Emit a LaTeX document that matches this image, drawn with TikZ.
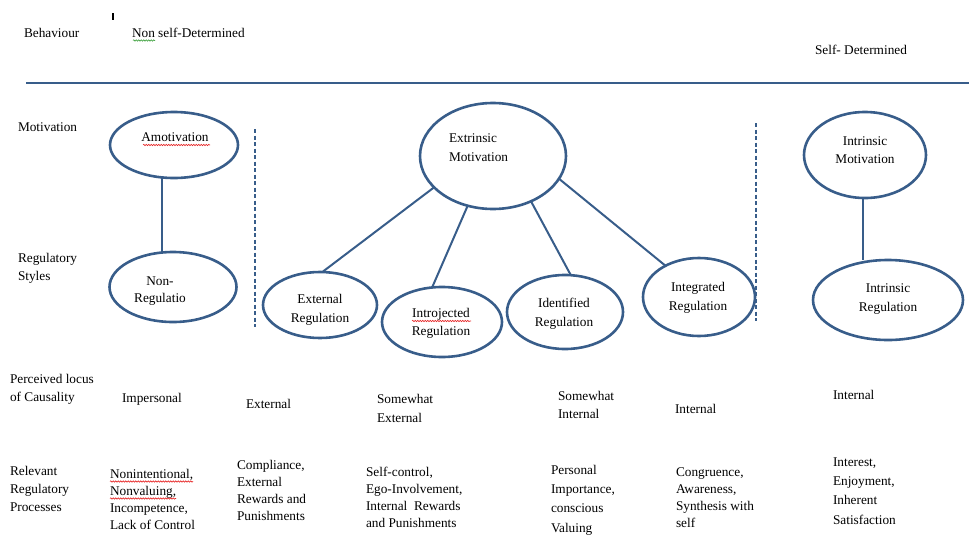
\documentclass[tikz,border=0pt]{standalone}
\usepackage{fontspec}
\setmainfont{Liberation Serif}
\usetikzlibrary{shapes.geometric,decorations.pathmorphing}
\definecolor{officeblue}{RGB}{56,93,138}
\definecolor{spellred}{RGB}{230,40,40}
\definecolor{spellgreen}{RGB}{60,160,60}
\begin{document}
\begin{tikzpicture}[x=1pt,y=-1pt,
  every node/.style={font=\fontsize{13.3}{17}\selectfont, inner sep=0pt, outer sep=0pt},
  lbl/.style={anchor=base west, align=left},
  ctr/.style={anchor=base, align=center},
  oval/.style={ellipse, draw=officeblue, line width=2.6pt, minimum width=#1},
  link/.style={draw=officeblue, line width=2pt},
  divider/.style={draw=officeblue, line width=1.4pt, dash pattern=on 4pt off 2.5pt},
  squiggle/.style={line width=0.6pt, decorate, decoration={snake, amplitude=0.7pt, segment length=2.5pt}}
]
\useasboundingbox (0,0) rectangle (969,536);
% multi-line texts are placed by the baseline of their last line

% header row
\node[lbl] (behav) at (24,37) {Behaviour};
\node[lbl] (nsd) at (132,37) {Non self-Determined};
\node[lbl] (sd) at (815,54) {Self- Determined};
\coordinate (tickA) at (113,13);
\coordinate (tickB) at (113,20);
\draw[line width=1.6pt] (tickA) -- (tickB);
\coordinate (ruleL) at (26,83);
\coordinate (ruleR) at (969,83);
\draw[officeblue, line width=2.6pt] (ruleL) -- (ruleR);

% row labels
\node[lbl] (rMot) at (18,131) {Motivation};
\node[lbl, font=\fontsize{13.3}{18}\selectfont] (rReg) at (18,280) {Regulatory\\Styles};
\node[lbl, font=\fontsize{13.3}{18}\selectfont] (rLoc) at (10,401) {Perceived locus\\of Causality};
\node[lbl, font=\fontsize{13.3}{18}\selectfont] (rProc) at (10,511) {Relevant\\Regulatory\\Processes};

% ellipses
\node[oval=128pt, minimum height=66pt] (amot) at (174,145) {};
\node[oval=127pt, minimum height=70pt] (nonreg) at (173,287) {};
\node[oval=146pt, minimum height=106pt] (extr) at (493,156) {};
\node[oval=114pt, minimum height=66pt] (extreg) at (320,305) {};
\node[oval=120pt, minimum height=70pt] (introj) at (442,322) {};
\node[oval=116pt, minimum height=74pt] (ident) at (565,312) {};
\node[oval=112pt, minimum height=78pt] (integ) at (699,297) {};
\node[oval=122pt, minimum height=86pt] (intmot) at (865,155) {};
\node[oval=150pt, minimum height=80pt] (intreg) at (888,300) {};

% texts inside the ellipses
\node[ctr] (tAmot) at (175,141.5) {Amotivation};
\node[ctr] (tNonreg) at (160,302.5) {Non-\\Regulatio};
\node[lbl, font=\fontsize{13.3}{19}\selectfont] (tExtr) at (449,161.5) {Extrinsic\\Motivation};
\node[ctr, font=\fontsize{13.3}{19}\selectfont] (tExtreg) at (320,322.5) {External\\Regulation};
\node[ctr, font=\fontsize{13.3}{18}\selectfont] (tIntroj) at (441,335.5) {Introjected\\Regulation};
\node[ctr, font=\fontsize{13.3}{19}\selectfont] (tIdent) at (564,326.5) {Identified\\Regulation};
\node[ctr, font=\fontsize{13.3}{19}\selectfont] (tInteg) at (698,310.5) {Integrated\\Regulation};
\node[ctr, font=\fontsize{13.3}{18}\selectfont] (tIntmot) at (865,163.5) {Intrinsic\\Motivation};
\node[ctr, font=\fontsize{13.3}{19}\selectfont] (tIntreg) at (888,311.5) {Intrinsic\\Regulation};

% connectors
\draw[link] ([xshift=-12pt]amot.south) -- ([xshift=-11pt]nonreg.north);
\draw[link] (extr.208) -- (extreg.86);
\draw[link] (extr.243) -- (introj.106);
\draw[link] (extr.310) -- (ident.81);
\draw[link] (extr.341) -- (integ.137);
\draw[link] ([xshift=-2pt]intmot.south) -- ([xshift=-25pt]intreg.north);

% dashed dividers
\coordinate (dA1) at (255,129);
\coordinate (dA2) at (255,327);
\coordinate (dB1) at (756,123);
\coordinate (dB2) at (756,321);
\draw[divider] (dA1) -- (dA2);
\draw[divider] (dB1) -- (dB2);

% perceived locus of causality
\node[lbl] (cImp) at (122,402) {Impersonal};
\node[lbl] (cExt) at (246,408) {External};
\node[lbl, font=\fontsize{13.3}{19}\selectfont] (cSwExt) at (377,422) {Somewhat\\External};
\node[lbl, font=\fontsize{13.3}{18}\selectfont] (cSwInt) at (558,418) {Somewhat\\Internal};
\node[lbl] (cInt) at (675,413) {Internal};
\node[lbl] (cInt2) at (833,399) {Internal};

% relevant regulatory processes
\node[lbl] (pNon) at (110,529) {Nonintentional,\\Nonvaluing,\\Incompetence,\\Lack of Control};
\node[lbl] (pComp) at (237,520) {Compliance,\\External\\Rewards and\\Punishments};
\node[lbl, font=\fontsize{13.3}{16.7}\selectfont] (pSelf) at (366,527) {Self-control,\\Ego-Involvement,\\Internal~~Rewards\\and Punishments};
\node[lbl, font=\fontsize{13.3}{19.2}\selectfont] (pPers) at (551,532) {Personal\\Importance,\\conscious\\Valuing};
\node[lbl, font=\fontsize{13.3}{16.7}\selectfont] (pCong) at (676,527) {Congruence,\\Awareness,\\Synthesis with\\self};
\node[lbl, font=\fontsize{13.3}{19.3}\selectfont] (pInt) at (833,524) {Interest,\\Enjoyment,\\Inherent\\Satisfaction};

% proofing underlines
\coordinate (sq1a) at (133,40.5); \coordinate (sq1b) at (155,40.5);
\draw[squiggle, spellgreen] (sq1a) -- (sq1b);
\coordinate (sq2a) at (143,145); \coordinate (sq2b) at (210,145);
\draw[squiggle, spellred] (sq2a) -- (sq2b);
\coordinate (sq3a) at (412,321); \coordinate (sq3b) at (471,321);
\draw[squiggle, spellred] (sq3a) -- (sq3b);
\coordinate (sq4a) at (110,481.5); \coordinate (sq4b) at (193,481.5);
\draw[squiggle, spellred] (sq4a) -- (sq4b);
\coordinate (sq5a) at (110,498.5); \coordinate (sq5b) at (176,498.5);
\draw[squiggle, spellred] (sq5a) -- (sq5b);
\end{tikzpicture}
\end{document}
